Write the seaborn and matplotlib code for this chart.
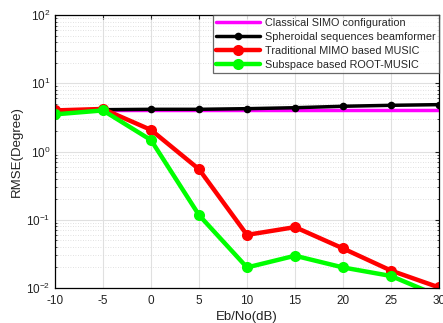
import matplotlib
matplotlib.use("Agg")
import matplotlib.pyplot as plt
import seaborn as sns
import numpy as np
import pandas as pd
from matplotlib.ticker import LogLocator, NullFormatter

snr = [-10, -5, 0, 5, 10, 15, 20, 25, 30]
simo = [4.0, 4.0, 4.0, 4.0, 4.0, 4.0, 4.0, 4.0, 4.0]
spheroidal = [4.0, 4.1, 4.15, 4.15, 4.24, 4.38, 4.6, 4.75, 4.86]
music = [4.0, 4.2, 2.07, 0.55, 0.06, 0.078, 0.038, 0.018, 0.0102]
root_music = [3.5, 4.0, 1.47, 0.117, 0.02, 0.0297, 0.02, 0.015, 0.0076]

labels = ["Classical SIMO configuration", "Spheroidal sequences beamformer",
          "Traditional MIMO based MUSIC", "Subspace based ROOT-MUSIC"]

sns.set_style("white")
plt.rcParams['font.family'] = ['Liberation Sans', 'DejaVu Sans']
plt.rcParams['axes.unicode_minus'] = False

fig = plt.figure(figsize=(4.43, 3.23), dpi=100)
ax = fig.add_axes([55/443, 1-288/323, (439-55)/443, (288-15)/323])

sns.lineplot(x=snr, y=simo, ax=ax, color='#ff00ff', lw=2.5, label=labels[0])
sns.lineplot(x=snr, y=spheroidal, ax=ax, color='black', lw=2.5, marker='o',
             markersize=5.5, markeredgewidth=0, label=labels[1])
sns.lineplot(x=snr, y=music, ax=ax, color='#ff0000', lw=3.2, marker='o',
             markersize=8, markeredgewidth=0, label=labels[2])
sns.lineplot(x=snr, y=root_music, ax=ax, color='#00ff00', lw=3.2, marker='o',
             markersize=8, markeredgewidth=0, label=labels[3])

ax.set_yscale('log')
ax.set_xlim(-10, 30)
ax.set_ylim(1e-2, 1e2)
ax.set_xticks(snr)
ax.yaxis.set_major_locator(LogLocator(base=10, numticks=10))
ax.yaxis.set_minor_locator(LogLocator(base=10, subs=np.arange(2, 10), numticks=20))
ax.yaxis.set_minor_formatter(NullFormatter())
ax.grid(True, which='major', color='#e0e0e0', lw=0.8, ls='-')
ax.grid(True, which='minor', axis='y', color='#d8d8d8', lw=0.6, ls=(0, (1, 2)))
ax.set_axisbelow(True)
for s in ax.spines.values():
    s.set_color('black')
    s.set_linewidth(0.9)
ax.tick_params(axis='both', which='major', direction='in', length=3, labelsize=8.5,
               colors='#222222', top=True, right=True)
ax.tick_params(axis='x', which='major', pad=5)
ax.tick_params(axis='y', which='minor', direction='in', length=1.5, right=True, left=True)
ax.set_xlabel('Eb/No(dB)', fontsize=9.5, labelpad=3, color='#222222')
ax.set_ylabel('RMSE(Degree)', fontsize=9.5, labelpad=2, color='#222222')

leg = ax.legend(loc='upper right', fontsize=7.8, frameon=True, fancybox=False,
                edgecolor='#444444', handlelength=4.0, borderpad=0.3,
                labelspacing=0.35, borderaxespad=0.0, handletextpad=0.5)
leg.get_frame().set_linewidth(0.9)

fig.savefig('out.png', dpi=100)
